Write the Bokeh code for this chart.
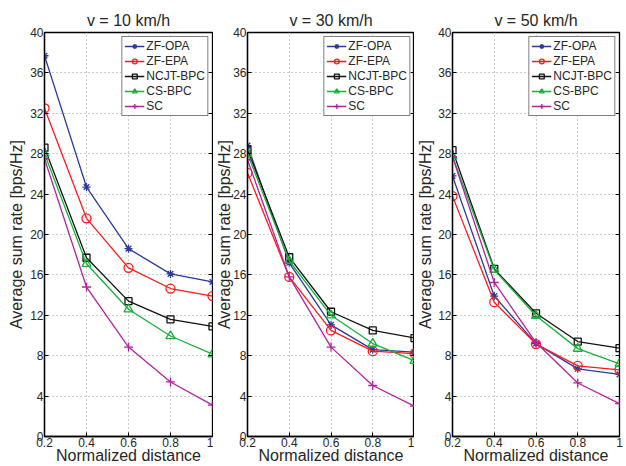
from bokeh.plotting import figure
from bokeh.layouts import row
from bokeh.models import (Range1d, FixedTicker, CustomJSTickFormatter, Legend,
                          LegendItem, LinearAxis)
from bokeh.embed import file_html
from bokeh.resources import INLINE

distance = [0.2, 0.4, 0.6, 0.8, 1.0]
series_names = ["ZF-OPA", "ZF-EPA", "NCJT-BPC", "CS-BPC", "SC"]
titles = ["v = 10 km/h", "v = 30 km/h", "v = 50 km/h"]
x_label = "Normalized distance"
y_label = "Average sum rate [bps/Hz]"

# v = 10 km/h
v10_zf_opa = [37.7, 24.7, 18.6, 16.1, 15.3]
v10_zf_epa = [32.5, 21.6, 16.7, 14.65, 13.9]
v10_ncjt_bpc = [28.6, 17.7, 13.4, 11.6, 10.9]
v10_cs_bpc = [28.0, 17.1, 12.6, 9.95, 8.15]
v10_sc = [27.5, 14.8, 8.85, 5.4, 3.1]

# v = 30 km/h
v30_zf_opa = [28.8, 17.2, 11.05, 8.6, 8.35]
v30_zf_epa = [26.1, 15.8, 10.5, 8.45, 8.2]
v30_ncjt_bpc = [28.4, 17.75, 12.35, 10.5, 9.75]
v30_cs_bpc = [28.0, 17.4, 12.0, 9.2, 7.5]
v30_sc = [27.4, 15.8, 8.85, 5.05, 3.0]

# v = 50 km/h
v50_zf_opa = [25.8, 13.9, 9.2, 6.7, 6.15]
v50_zf_epa = [23.8, 13.3, 9.15, 7.0, 6.6]
v50_ncjt_bpc = [28.35, 16.6, 12.2, 9.4, 8.75]
v50_cs_bpc = [27.75, 16.5, 11.95, 8.7, 7.2]
v50_sc = [27.7, 15.25, 9.3, 5.3, 3.25]

y_ticks = [0, 4, 8, 12, 16, 20, 24, 28, 32, 36, 40]
x_ticks = [0.2, 0.4, 0.6, 0.8, 1.0]

panels = [
    [v10_zf_opa, v10_zf_epa, v10_ncjt_bpc, v10_cs_bpc, v10_sc],
    [v30_zf_opa, v30_zf_epa, v30_ncjt_bpc, v30_cs_bpc, v30_sc],
    [v50_zf_opa, v50_zf_epa, v50_ncjt_bpc, v50_cs_bpc, v50_sc],
]

colors = ["#2b3a9c", "#ff1a1a", "#111111", "#18b03a", "#b3239e"]
markers = ["asterisk", "circle", "square", "triangle", "cross"]
msizes = [8, 9, 7, 9, 9]

FONT = "Liberation Sans"
TXT = "#262626"

# geometry per panel: (width, border_left, border_right, ylabel standoff)
geo = [(213, 44, 1, 2), (201, 31, 0, -3), (212, 34, 7, 1)]
H = 466

figs = []
for k in range(3):
    w, bl, br, ls = geo[k]
    p = figure(width=w, height=H, output_backend="svg", toolbar_location=None,
               x_range=Range1d(0.2, 1.0), y_range=Range1d(0, 40),
               min_border_left=bl, min_border_right=br,
               min_border_top=32, min_border_bottom=28)
    p.title.text = titles[k]
    p.title.align = "center"
    p.title.text_font = FONT
    p.title.text_font_size = "16px"
    p.title.text_font_style = "normal"
    p.title.text_color = TXT
    p.title.standoff = 7
    p.title.offset = 0

    p.outline_line_color = "black"
    p.outline_line_width = 1.3
    p.outline_line_alpha = 1.0
    p.background_fill_color = "white"
    p.border_fill_color = "white"

    p.xaxis.ticker = FixedTicker(ticks=x_ticks)
    p.xaxis.formatter = CustomJSTickFormatter(code="return Math.abs(tick-1)<1e-9 ? '1' : tick.toFixed(1);")
    p.yaxis.ticker = FixedTicker(ticks=y_ticks)

    for ax in (p.xaxis[0], p.yaxis[0]):
        ax.major_tick_in = 4
        ax.major_tick_out = 0
        ax.minor_tick_line_color = None
        ax.axis_line_color = "black"
        ax.axis_line_width = 1.3
        ax.major_tick_line_color = "black"
        ax.major_label_text_font = FONT
        ax.major_label_text_font_size = "12px"
        ax.major_label_text_color = TXT
        ax.major_label_standoff = 1
        ax.axis_label_text_font = FONT
        ax.axis_label_text_font_size = "16px"
        ax.axis_label_text_font_style = "normal"
        ax.axis_label_text_color = TXT
    p.yaxis.axis_label = y_label
    p.yaxis.axis_label_standoff = ls
    p.xaxis.axis_label = x_label
    p.xaxis.axis_label_standoff = -3

    # inward ticks on the right side (MATLAB box style)
    ra = LinearAxis(ticker=FixedTicker(ticks=y_ticks), major_label_text_font_size="0px",
                    major_tick_in=4, major_tick_out=0, minor_tick_line_color=None,
                    axis_line_color=None, major_label_standoff=0,
                    major_tick_line_color="black")
    ra.formatter = CustomJSTickFormatter(code="return '';")
    p.add_layout(ra, "right")

    p.grid.grid_line_color = "#9a9a9a"
    p.grid.grid_line_dash = "1 3"
    p.grid.grid_line_width = 1

    items = []
    for i in range(5):
        ys = panels[k][i]
        ln = p.line(distance, ys, line_color=colors[i], line_width=1.3)
        sc = p.scatter(distance, ys, marker=markers[i], size=msizes[i],
                       line_color=colors[i], fill_color=None, line_width=1.3)
        items.append(LegendItem(label=series_names[i], renderers=[ln, sc]))

    leg = Legend(items=items, location="top_right")
    leg.label_text_font = FONT
    leg.label_text_font_size = "12px"
    leg.label_text_color = TXT
    leg.border_line_color = "black"
    leg.border_line_width = 1.3
    leg.background_fill_color = "white"
    leg.background_fill_alpha = 1.0
    leg.margin = 4
    leg.padding = 2
    leg.spacing = 1
    leg.glyph_width = 20
    leg.glyph_height = 12
    leg.label_height = 12
    leg.label_standoff = 2
    p.add_layout(leg)
    figs.append(p)

layout = row(*figs, spacing=0)
open("out.html", "w").write(file_html(layout, INLINE))
